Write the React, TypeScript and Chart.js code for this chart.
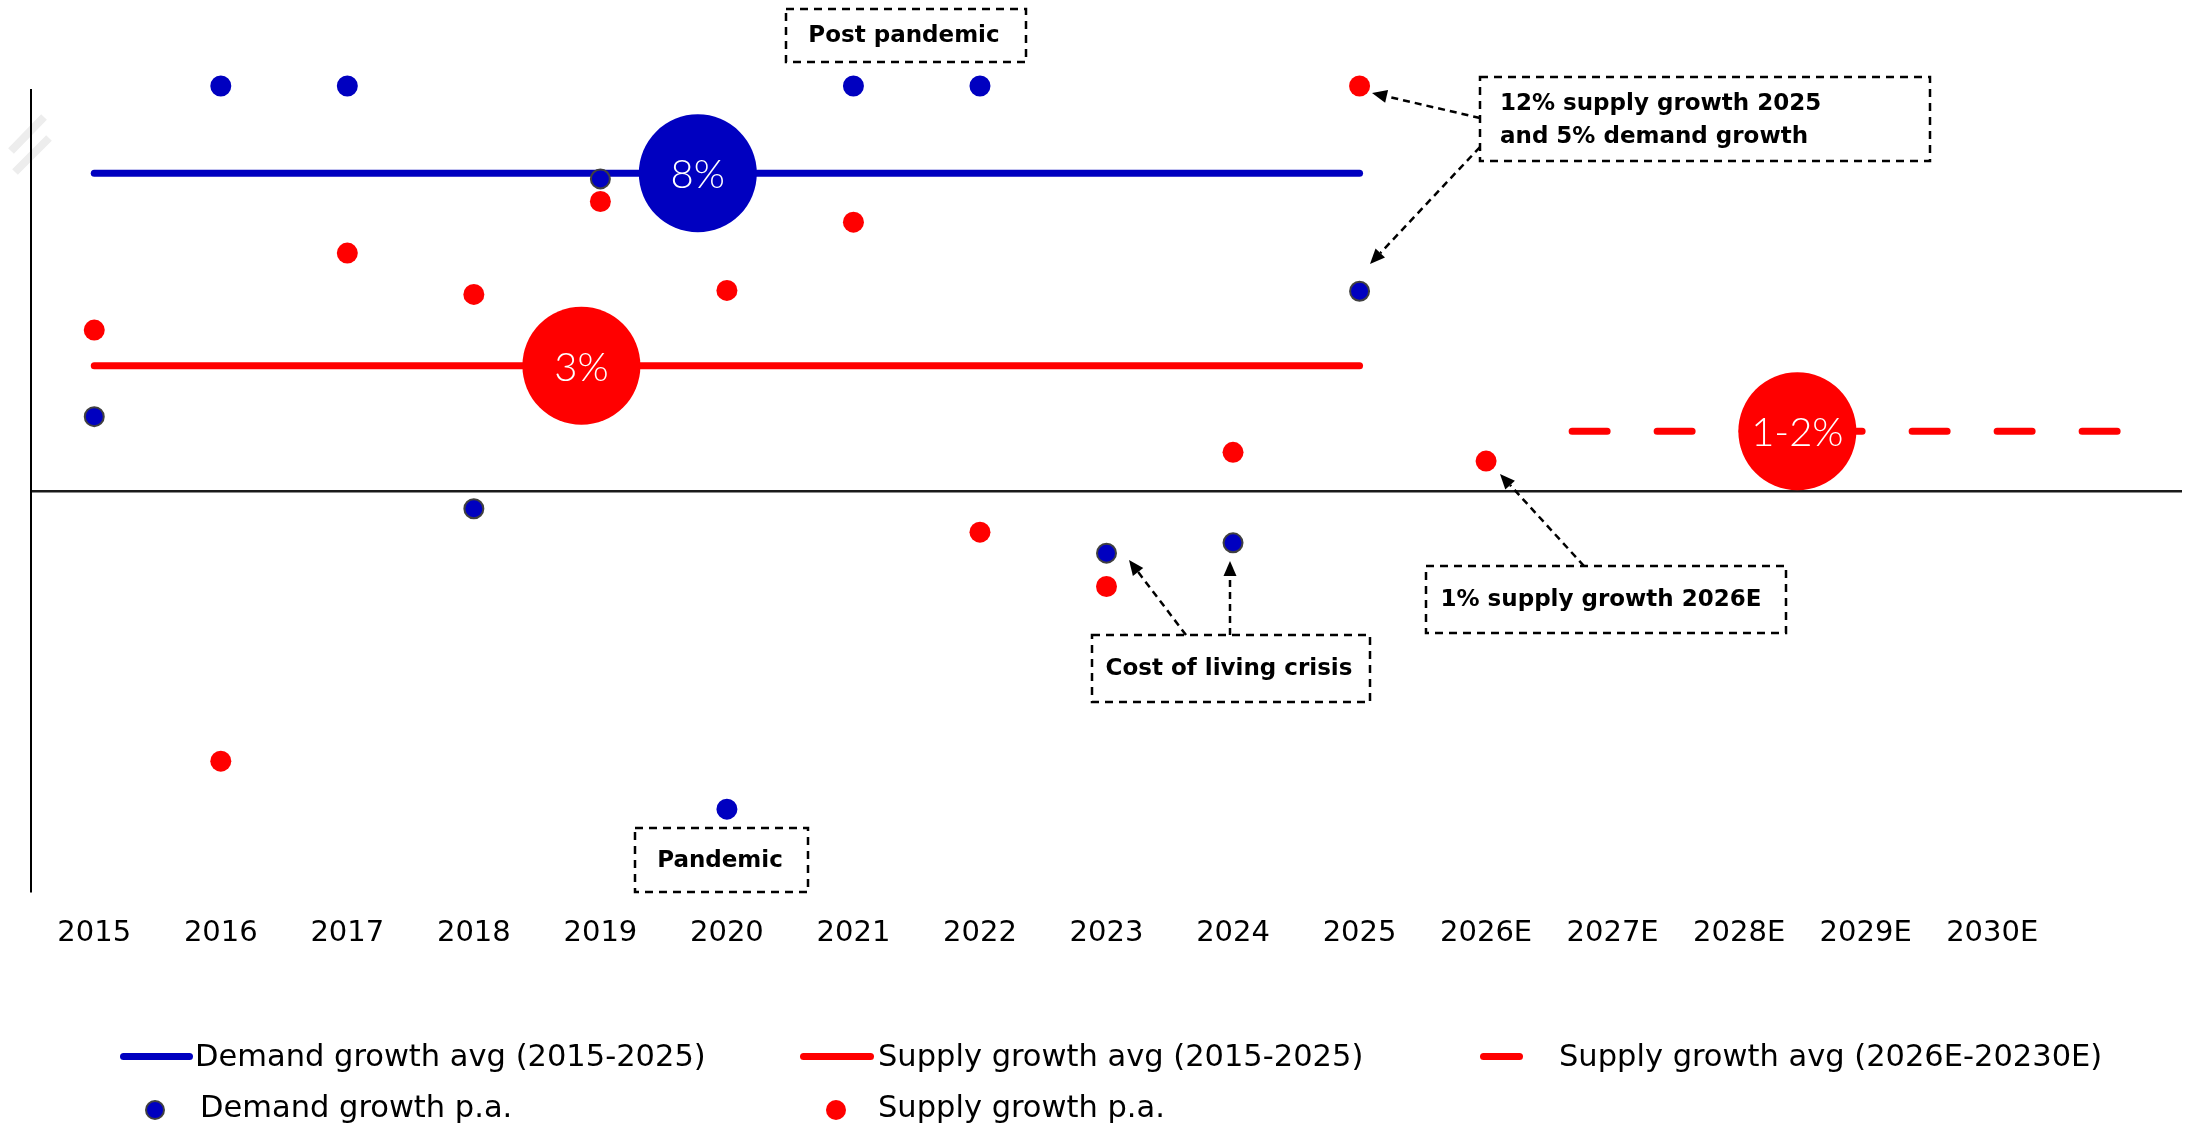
import React, { useEffect, useRef } from 'react';
import { Chart, registerables } from 'chart.js';

Chart.register(...registerables);

// ---------- data ----------
const categories = ['2015', '2016', '2017', '2018', '2019', '2020', '2021', '2022', '2023', '2024', '2025', '2026E', '2027E', '2028E', '2029E', '2030E'];

// values in % (points drawn at the top edge of the broken axis are capped at 10.2)
const demandGrowth = [1.87, 10.2, 10.2, -0.45, 7.86, -8.02, 10.2, 10.2, -1.57, -1.31, 5.03];
const demandOutlined = [true, false, false, true, true, false, false, false, true, true, true];
const supplyGrowth = [4.05, -6.81, 5.99, 4.95, 7.29, 5.05, 6.77, -1.04, -2.41, 0.97, 10.2, 0.75];

const demandAvg = 8;
const supplyAvg = 3.15;
const supplyAvgForecast = 1.5;
const avgSpan = [0, 10];
const forecastSpan = [11.68, 16];

const bubbleLabels = ['8%', '3%', '1-2%'];
const bubbleX = [4.77, 3.85, 13.46];
const bubbleY = [demandAvg, supplyAvg, supplyAvgForecast];

const legendLabels = [
  'Demand growth avg (2015-2025)',
  'Supply growth avg (2015-2025)',
  'Supply growth avg (2026E-20230E)',
  'Demand growth p.a.',
  'Supply growth p.a.',
];

const annotationTexts = [
  ['Post pandemic'],
  ['12% supply growth 2025', 'and 5% demand growth'],
  ['Pandemic'],
  ['Cost of living crisis'],
  ['1% supply growth 2026E'],
];

// ---------- style / layout ----------
const BLUE = '#0000C0';
const RED = '#FF0000';
const OUTLINE = '#404040';
const FONT = '"DejaVu Sans", sans-serif';
const W = 2193;
const H = 1127;

// boxes: [x0, y0, x1, y1], text anchor
const annotationBoxes = [
  { box: [786, 9, 1026, 62], align: 'center', tx: 904, ty: [36] },
  { box: [1480, 77, 1930, 161], align: 'left', tx: 1500, ty: [104, 137] },
  { box: [635, 828, 808, 892], align: 'center', tx: 720, ty: [861] },
  { box: [1092, 635, 1370, 702], align: 'center', tx: 1229, ty: [669] },
  { box: [1426, 566, 1786, 633], align: 'center', tx: 1601, ty: [600] },
];
const arrows = [
  [1480, 118, 1372, 93],
  [1480, 147, 1370, 264],
  [1186, 635, 1129, 560],
  [1230, 635, 1230, 561],
  [1584, 566, 1500, 474],
];

const annotationPlugin = {
  id: 'customAnnotations',
  beforeDraw(chart: any) {
    // axis break mark
    const ctx = chart.ctx;
    ctx.save();
    ctx.strokeStyle = '#EDEDED';
    ctx.lineWidth = 8;
    ctx.lineCap = 'butt';
    ctx.beginPath();
    ctx.moveTo(11, 151);
    ctx.lineTo(44, 117);
    ctx.moveTo(15, 172);
    ctx.lineTo(49, 138);
    ctx.stroke();
    ctx.restore();
  },
  afterDatasetsDraw(chart: any) {
    const ctx = chart.ctx;
    ctx.save();
    // bubble labels
    const meta = chart.getDatasetMeta(2);
    ctx.fillStyle = '#FFFFFF';
    ctx.font = '300 40px Lato, sans-serif';
    ctx.textAlign = 'center';
    ctx.textBaseline = 'middle';
    meta.data.forEach((el: any, i: number) => {
      ctx.fillText(bubbleLabels[i], el.x, el.y + 2);
    });

    // boxes
    ctx.strokeStyle = '#000';
    ctx.lineWidth = 2.5;
    ctx.setLineDash([8, 6]);
    annotationBoxes.forEach((a) => {
      const [x0, y0, x1, y1] = a.box;
      ctx.strokeRect(x0, y0, x1 - x0, y1 - y0);
    });
    ctx.setLineDash([]);
    ctx.fillStyle = '#000';
    ctx.font = 'bold 23px ' + FONT;
    ctx.textBaseline = 'middle';
    annotationBoxes.forEach((a, i) => {
      ctx.textAlign = a.align;
      annotationTexts[i].forEach((line, j) => ctx.fillText(line, a.tx, a.ty[j]));
    });

    // arrows
    arrows.forEach(([x1, y1, x2, y2]) => {
      const dx = x2 - x1;
      const dy = y2 - y1;
      const len = Math.hypot(dx, dy);
      const ux = dx / len;
      const uy = dy / len;
      const head = 15;
      const hw = 6.5;
      const bx = x2 - ux * head;
      const by = y2 - uy * head;
      ctx.setLineDash([7, 5]);
      ctx.lineWidth = 2.5;
      ctx.beginPath();
      ctx.moveTo(x1, y1);
      ctx.lineTo(bx, by);
      ctx.stroke();
      ctx.setLineDash([]);
      ctx.beginPath();
      ctx.moveTo(x2, y2);
      ctx.lineTo(bx - uy * hw, by + ux * hw);
      ctx.lineTo(bx + uy * hw, by - ux * hw);
      ctx.closePath();
      ctx.fill();
    });
    ctx.restore();
  },
};

type LegendItem = { kind: 'line' | 'dash' | 'dot'; color: string; outline?: string; symX: number; symW: number; textX: number; y: number };
const legendLayout: LegendItem[] = [
  { kind: 'line', color: BLUE, symX: 120, symW: 73, textX: 195, y: 1056 },
  { kind: 'line', color: RED, symX: 800, symW: 74, textX: 878, y: 1056 },
  { kind: 'dash', color: RED, symX: 1480, symW: 43, textX: 1559, y: 1056 },
  { kind: 'dot', color: BLUE, outline: OUTLINE, symX: 145, symW: 20, textX: 200, y: 1107 },
  { kind: 'dot', color: RED, symX: 826, symW: 20, textX: 878, y: 1107 },
];

function Legend() {
  return (
    <>
      {legendLabels.map((label, i) => {
        const it = legendLayout[i];
        const sym =
          it.kind === 'dot' ? (
            <div
              style={{
                position: 'absolute',
                left: it.symX,
                top: it.y + 3 - it.symW / 2,
                width: it.symW,
                height: it.symW,
                borderRadius: '50%',
                background: it.color,
                boxSizing: 'border-box',
                border: it.outline ? `2px solid ${it.outline}` : 'none',
              }}
            />
          ) : (
            <div
              style={{
                position: 'absolute',
                left: it.symX,
                top: it.y - 3.5,
                width: it.symW,
                height: 7,
                borderRadius: 3.5,
                background: it.color,
              }}
            />
          );
        return (
          <React.Fragment key={label}>
            {sym}
            <div
              style={{
                position: 'absolute',
                left: it.textX,
                top: it.y - 20,
                height: 40,
                lineHeight: '40px',
                fontFamily: FONT,
                fontSize: 30.5,
                color: '#000',
                whiteSpace: 'nowrap',
              }}
            >
              {label}
            </div>
          </React.Fragment>
        );
      })}
    </>
  );
}

export default function App() {
  const canvasRef = useRef<HTMLCanvasElement | null>(null);

  useEffect(() => {
    const canvas = canvasRef.current;
    if (!canvas) return;
    const chart = new Chart(canvas, {
      type: 'scatter',
      data: {
        datasets: [
          {
            label: legendLabels[3],
            data: demandGrowth.map((y, i) => ({ x: i, y })),
            pointBackgroundColor: BLUE,
            pointBorderColor: demandOutlined.map((o) => (o ? OUTLINE : BLUE)),
            pointBorderWidth: 2,
            pointRadius: 9.5,
            order: 0,
            clip: false,
          },
          {
            label: legendLabels[4],
            data: supplyGrowth.map((y, i) => ({ x: i, y })),
            pointBackgroundColor: RED,
            pointBorderColor: RED,
            pointBorderWidth: 0,
            pointRadius: 10.5,
            order: 0,
            clip: false,
          },
          {
            type: 'bubble',
            label: 'avg',
            data: bubbleX.map((x, i) => ({ x, y: bubbleY[i], r: 59 })),
            backgroundColor: [BLUE, RED, RED],
            borderWidth: 0,
            order: 1,
            clip: false,
          } as any,
          {
            label: legendLabels[0],
            data: avgSpan.map((x) => ({ x, y: demandAvg })),
            showLine: true,
            borderColor: BLUE,
            borderWidth: 7,
            borderCapStyle: 'round',
            pointRadius: 0,
            order: 2,
            clip: false,
          },
          {
            label: legendLabels[1],
            data: avgSpan.map((x) => ({ x, y: supplyAvg })),
            showLine: true,
            borderColor: RED,
            borderWidth: 7,
            borderCapStyle: 'round',
            pointRadius: 0,
            order: 2,
            clip: false,
          },
          {
            label: legendLabels[2],
            data: forecastSpan.map((x) => ({ x, y: supplyAvgForecast })),
            showLine: true,
            borderColor: RED,
            borderWidth: 7,
            borderCapStyle: 'round',
            borderDash: [35, 50],
            pointRadius: 0,
            order: 2,
            clip: false,
          },
        ],
      },
      options: {
        responsive: false,
        animation: false,
        events: [],
        layout: { autoPadding: false, padding: { left: 31, right: 11, top: 90, bottom: H - 891.7 - 70 } },
        plugins: { legend: { display: false }, tooltip: { enabled: false } },
        scales: {
          x: {
            type: 'linear',
            min: -0.5,
            max: 16.5,
            afterBuildTicks: (s: any) => {
              s.ticks = categories.map((_, i) => ({ value: i }));
            },
            afterFit: (s: any) => {
              s.height = 70;
              s.paddingLeft = 0;
              s.paddingRight = 0;
            },
            ticks: {
              autoSkip: false,
              maxRotation: 0,
              minRotation: 0,
              padding: 24,
              color: '#000',
              font: { family: FONT, size: 29 },
              callback: (v: any) => categories[v] ?? '',
            },
            grid: { display: false, drawTicks: false },
            border: { display: false },
          },
          y: {
            type: 'linear',
            min: -10.1,
            max: 10.1,
            afterBuildTicks: (s: any) => {
              s.ticks = [{ value: 0 }];
            },
            afterFit: (s: any) => {
              s.width = 0;
              s.paddingTop = 0;
              s.paddingBottom = 0;
            },
            ticks: { display: false },
            grid: { color: '#1a1a1a', lineWidth: 2.5, drawTicks: false },
            border: { display: true, color: '#000', width: 2 },
          },
        },
      } as any,
      plugins: [annotationPlugin as any],
    });
    return () => chart.destroy();
  }, []);

  return (
    <div style={{ position: 'fixed', left: 0, top: 0, width: W, height: H, background: '#fff', overflow: 'hidden' }}>
      <canvas ref={canvasRef} width={W} height={H} style={{ display: 'block', position: 'absolute', left: 0, top: 0 }} />
      <Legend />
    </div>
  );
}
